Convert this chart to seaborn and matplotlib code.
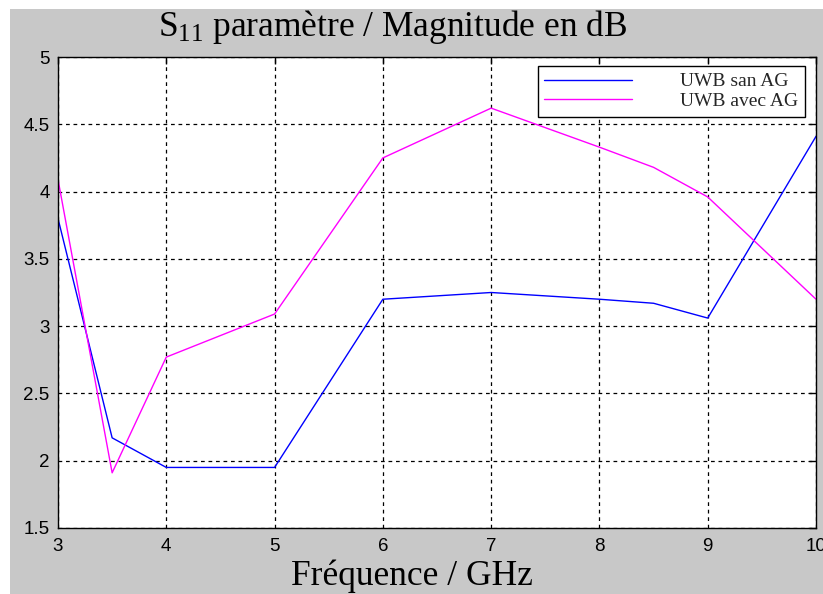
import matplotlib
matplotlib.use("Agg")
import matplotlib.pyplot as plt
from matplotlib.patches import Rectangle
import seaborn as sns
import pandas as pd

freq_ghz = [3, 3.5, 4, 5, 6, 7, 8, 8.5, 9, 10]
uwb_sans_ag = [3.80, 2.17, 1.95, 1.95, 3.20, 3.25, 3.20, 3.17, 3.06, 4.41]
uwb_avec_ag = [4.09, 1.91, 2.77, 3.09, 4.25, 4.62, 4.33, 4.18, 3.96, 3.20]
series_names = ["UWB san AG", "UWB avec AG"]
x_ticks = [3, 4, 5, 6, 7, 8, 9, 10]
y_ticks = [1.5, 2, 2.5, 3, 3.5, 4, 4.5, 5]
y_tick_labels = ["1.5", "2", "2.5", "3", "3.5", "4", "4.5", "5"]

df = pd.DataFrame({
    "freq": freq_ghz * 2,
    "mag": uwb_sans_ag + uwb_avec_ag,
    "serie": [series_names[0]] * len(freq_ghz) + [series_names[1]] * len(freq_ghz),
})

sns.set_theme(style="white")
plt.rcParams["mathtext.fontset"] = "custom"
plt.rcParams["mathtext.rm"] = "Liberation Serif"
plt.rcParams["mathtext.it"] = "Liberation Serif:italic"

W, H = 823, 594
bg = "#c8c8c8"
fig = plt.figure(figsize=(W / 100, H / 100), dpi=100, facecolor=bg)

# thin white margin along the top and left edges of the window
fig.patches.append(Rectangle((0, 1 - 9 / H), 1, 9 / H, transform=fig.transFigure,
                             facecolor="white", edgecolor="none", zorder=0))
fig.patches.append(Rectangle((0, 0), 10 / W, 1, transform=fig.transFigure,
                             facecolor="white", edgecolor="none", zorder=0))

ax = fig.add_axes([58 / W, 1 - 528 / H, (816 - 58) / W, (528 - 57) / H])
ax.set_facecolor("white")

sns.lineplot(data=df, x="freq", y="mag", hue="serie",
             palette={series_names[0]: "#0000ff", series_names[1]: "#ff00ff"},
             linewidth=1.0, ax=ax, legend=True)

ax.set_xlim(3, 10)
ax.set_ylim(1.5, 5)
ax.set_xticks(x_ticks)
ax.set_yticks(y_ticks)
ax.set_yticklabels(y_tick_labels)
ax.tick_params(direction="in", top=True, right=True, length=5, width=1,
               color="black", labelsize=13.5, labelcolor="black")
ax.tick_params(axis="x", pad=7)
ax.tick_params(axis="y", pad=6)
for lab in ax.get_xticklabels() + ax.get_yticklabels():
    lab.set_family("Liberation Sans")

ax.grid(True, color="black", linestyle=(0, (3, 3)), linewidth=0.9)
ax.set_axisbelow(True)
for s in ax.spines.values():
    s.set_color("black")
    s.set_linewidth(1.0)

ax.set_xlabel("")
ax.set_ylabel("")
fig.text(393 / W, 1 - 36 / H, r"S$_{11}$ paramètre / Magnitude en dB",
         family="Liberation Serif", fontsize=25.5, color="black",
         ha="center", va="baseline")
fig.text(412 / W, 1 - 585 / H, "Fréquence / GHz",
         family="Liberation Serif", fontsize=25.5, color="black",
         ha="center", va="baseline")

handles, labels = ax.get_legend_handles_labels()
leg = ax.legend(handles, labels, loc="upper right", bbox_to_anchor=(0.986, 0.981),
                frameon=True, fancybox=False, edgecolor="black", facecolor="white",
                framealpha=1, prop={"family": "Liberation Serif", "size": 14},
                handlelength=4.5, handletextpad=2.5, borderpad=0.35, labelspacing=0.1,
                borderaxespad=0)
leg.get_frame().set_linewidth(1.0)

fig.savefig("out.png", dpi=100, facecolor=bg)
